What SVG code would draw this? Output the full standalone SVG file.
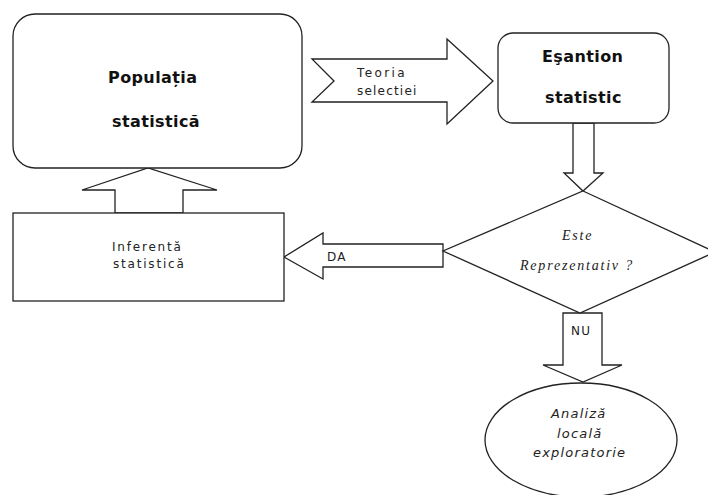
<svg xmlns="http://www.w3.org/2000/svg" width="708" height="495" viewBox="0 0 708 495">
<style>
.s{fill:#fff;stroke:#222;stroke-width:1.3;stroke-linejoin:miter}
.b{font-family:"DejaVu Sans",Verdana,sans-serif;font-weight:bold;font-size:16px;fill:#111;letter-spacing:0.4px}
.r{font-family:"DejaVu Sans",Verdana,sans-serif;font-size:12px;fill:#222;letter-spacing:1.2px}
.ri{font-family:"Liberation Serif","DejaVu Serif",serif;font-style:italic;font-size:14px;fill:#222;letter-spacing:1.8px}
.si{font-family:"DejaVu Sans",Verdana,sans-serif;font-style:italic;font-size:13px;fill:#222;letter-spacing:1.2px}
</style>
<rect width="708" height="495" fill="#fff"/>
<g id="connectors">
<polygon class="s" points="312,59 447,59 447,39 493,81 447,124 447,102 312,102 334,81"/>
<polygon class="s" points="573,123 594,123 594,173 603,173 583,191 564,173 573,173"/>
<polygon class="s" points="115,213 115,190 82,190 148,168 217,190 183,190 183,213"/>
<polygon class="s" points="443,244 323,244 323,233 284,257 323,279 323,267 443,267"/>
<polygon class="s" points="563,313 602,313 602,365 622,365 583,382 543,365 563,365"/>
<text class="r" x="357" y="77" style="letter-spacing:2.4px">Teoria</text>
<text class="r" x="357" y="95">selectiei</text>
<text class="r" x="327" y="261">DA</text>
<text class="r" x="571" y="335">NU</text>
</g>
<g id="populatia">
<rect class="s" x="13" y="14" width="289" height="154" rx="22" ry="22"/>
<text class="b" x="108" y="83">Populația</text>
<text class="b" x="112" y="127">statistică</text>
</g>
<g id="esantion">
<rect class="s" x="498" y="33" width="171" height="90" rx="15" ry="15"/>
<text class="b" x="542" y="62">Eşantion</text>
<text class="b" x="545" y="103">statistic</text>
</g>
<g id="inferenta">
<rect class="s" x="13" y="213" width="271" height="88"/>
<text class="r" x="112" y="251" style="letter-spacing:1.8px">Inferentă</text>
<text class="r" x="113" y="268" style="letter-spacing:1.8px">statistică</text>
</g>
<g id="decizie">
<polygon class="s" points="583,191 715,252 580,313 443,251"/>
<text class="ri" x="562" y="240">Este</text>
<text class="ri" x="520" y="270">Reprezentativ ?</text>
</g>
<g id="analiza">
<ellipse class="s" cx="581" cy="440" rx="96" ry="57"/>
<text class="si" x="551" y="418">Analiză</text>
<text class="si" x="557" y="438">locală</text>
<text class="si" x="533" y="457">exploratorie</text>
</g>
</svg>
